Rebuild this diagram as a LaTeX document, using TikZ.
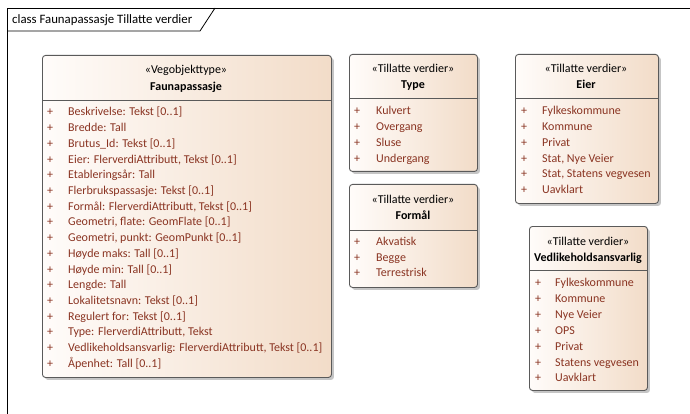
\documentclass[tikz,border=0pt]{standalone}
\usepackage{fontspec}
\setmainfont{Carlito}
\usetikzlibrary{shadows}
\definecolor{boxleft}{HTML}{FFFCFA}
\definecolor{boxright}{HTML}{F2DCC8}
\definecolor{boxborder}{HTML}{5A5A5A}
\definecolor{itemcol}{HTML}{8A3422}
\tikzset{
  umlbox/.style={draw=boxborder, line width=0.9pt, rounded corners=3pt,
    left color=boxleft, right color=boxright, anchor=north west, inner sep=0pt,
    drop shadow={shadow xshift=2.5pt, shadow yshift=-2.5pt, fill=black!45, opacity=0.5}},
  sep/.style={draw=boxborder, line width=0.8pt},
  item/.style={font=\fontsize{12}{14}\selectfont, text=itemcol, inner sep=0pt, anchor=base west},
  plus/.style={font=\fontsize{12}{14}\selectfont, text=itemcol, inner sep=0pt, anchor=base},
  stereo/.style={font=\fontsize{12}{14}\selectfont, inner sep=0pt, anchor=base},
  title/.style={font=\fontsize{12}{14}\selectfont\bfseries, inner sep=0pt, anchor=base},
  frame/.style={draw=black, line width=0.8pt}
}
\begin{document}
\begin{tikzpicture}[x=1pt,y=-1pt]
\useasboundingbox[fill=white] (0,0) rectangle (690,414);
% frame
\draw[frame] (7,414) -- (7,8) -- (690,8);
\draw[frame] (7,31) -- (200,31) -- (215,8);
\node[font=\fontsize{12.8}{14}\selectfont, anchor=base west, inner sep=0pt] (frametitle) at (12,24) {class Faunapassasje Tillatte verdier};

% main box
\node[umlbox, minimum width=289pt, minimum height=322pt] (main) at (42,55) {};
\draw[sep] (42,100) -- (331,100);
\node[stereo] (mainst) at (186,74) {«Vegobjekttype»};
\node[title] (maint) at (186,90.5) {Faunapassasje};
\foreach \t [count=\i] in {Beskrivelse: Tekst [0..1], Bredde: Tall, Brutus\_Id: Tekst [0..1], {Eier: FlerverdiAttributt, Tekst [0..1]}, Etableringsår: Tall, Flerbrukspassasje: Tekst [0..1], {Formål: FlerverdiAttributt, Tekst [0..1]}, {Geometri, flate: GeomFlate [0..1]}, {Geometri, punkt: GeomPunkt [0..1]}, Høyde maks: Tall [0..1], Høyde min: Tall [0..1], Lengde: Tall, Lokalitetsnavn: Tekst [0..1], Regulert for: Tekst [0..1], {Type: FlerverdiAttributt, Tekst}, {Vedlikeholdsansvarlig: FlerverdiAttributt, Tekst [0..1]}, Åpenhet: Tall [0..1]} {
  \node[plus] (mp\i) at (50,{116+(\i-1)*15.7}) {+};
  \node[item] (m\i) at (68,{116+(\i-1)*15.7}) {\t};
}

% Type box
\node[umlbox, minimum width=128pt, minimum height=117pt] (type) at (349,54) {};
\draw[sep] (349,98) -- (477,98);
\node[stereo] (typest) at (413,72.5) {«Tillatte verdier»};
\node[title] (typet) at (413,89) {Type};
\foreach \t [count=\i] in {Kulvert, Overgang, Sluse, Undergang} {
  \node[plus] (tp\i) at (357,{115+(\i-1)*15.7}) {+};
  \node[item] (t\i) at (376,{115+(\i-1)*15.7}) {\t};
}

% Formål box
\node[umlbox, minimum width=128pt, minimum height=103pt] (formal) at (349,184) {};
\draw[sep] (349,230) -- (477,230);
\node[stereo] (formalst) at (413,203) {«Tillatte verdier»};
\node[title] (formalt) at (413,219.5) {Formål};
\foreach \t [count=\i] in {Akvatisk, Begge, Terrestrisk} {
  \node[plus] (fp\i) at (357,{245.5+(\i-1)*15.7}) {+};
  \node[item] (f\i) at (376,{245.5+(\i-1)*15.7}) {\t};
}

% Eier box
\node[umlbox, minimum width=143pt, minimum height=149pt] (eier) at (515,54) {};
\draw[sep] (515,98) -- (658,98);
\node[stereo] (eierst) at (586,72.5) {«Tillatte verdier»};
\node[title] (eiert) at (586,89) {Eier};
\foreach \t [count=\i] in {Fylkeskommune, Kommune, Privat, {Stat, Nye Veier}, {Stat, Statens vegvesen}, Uavklart} {
  \node[plus] (ep\i) at (524,{115+(\i-1)*15.7}) {+};
  \node[item] (e\i) at (542,{115+(\i-1)*15.7}) {\t};
}

% Vedlikeholdsansvarlig box
\node[umlbox, minimum width=118pt, minimum height=164pt] (ved) at (529,226) {};
\draw[sep] (529,270) -- (647,270);
\node[stereo] (vedst) at (588,245) {«Tillatte verdier»};
\node[title] (vedt) at (588,261.5) {Vedlikeholdsansvarlig};
\foreach \t [count=\i] in {Fylkeskommune, Kommune, Nye Veier, OPS, Privat, Statens vegvesen, Uavklart} {
  \node[plus] (vp\i) at (538,{286.5+(\i-1)*15.9}) {+};
  \node[item] (v\i) at (555,{286.5+(\i-1)*15.9}) {\t};
}
\end{tikzpicture}
\end{document}
